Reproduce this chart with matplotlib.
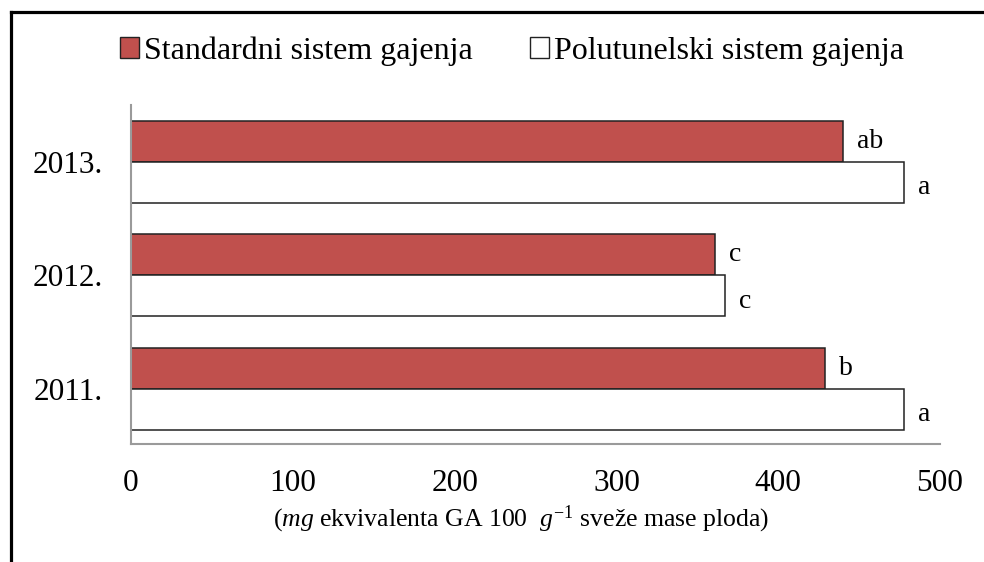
import matplotlib
matplotlib.use("Agg")
import matplotlib.pyplot as plt
from matplotlib.patches import Patch
from matplotlib.lines import Line2D

plt.rcParams['font.family'] = ['Liberation Serif', 'DejaVu Serif']
plt.rcParams['mathtext.fontset'] = 'custom'
plt.rcParams['mathtext.rm'] = 'Liberation Serif'
plt.rcParams['mathtext.it'] = 'Liberation Serif:italic'

years = ["2011.", "2012.", "2013."]
standardni = [429, 361, 440]
polutunelski = [478, 367, 478]
letters_std = ["b", "c", "ab"]
letters_pol = ["a", "c", "a"]
series_names = ["Standardni sistem gajenja", "Polutunelski sistem gajenja"]
xticks = [0, 100, 200, 300, 400, 500]
xlabel = r"$(\mathit{mg}$ ekvivalenta GA 100  $\mathit{g}^{-1}$ sveže mase ploda)"

W, H = 984, 562
fig = plt.figure(figsize=(W / 100, H / 100), dpi=100)
ax = fig.add_axes([131 / W, 1 - 444 / H, (940 - 131) / W, (444 - 105) / H])

red = "#C0504D"
h = 0.36
pos = list(range(len(years)))
b1 = ax.barh([p + h / 2 for p in pos], standardni, height=h, color=red,
             edgecolor="#222222", linewidth=1.1)
b2 = ax.barh([p - h / 2 for p in pos], polutunelski, height=h, color="white",
             edgecolor="#222222", linewidth=1.1)

for bars, labs, dy in ((b1, letters_std, 0), (b2, letters_pol, -4)):
    for bar, lab in zip(bars, labs):
        ax.annotate(lab, (bar.get_width(), bar.get_y() + bar.get_height() / 2),
                    xytext=(10, dy), textcoords="offset points", ha="left",
                    va="center", fontsize=20)

ax.set_xlim(0, 500)
ax.set_ylim(-0.485, 2.5)
ax.set_yticks(pos)
ax.set_yticklabels(years, fontsize=22.5)
ax.set_xticks(xticks)
ax.set_xticklabels([str(t) for t in xticks], fontsize=22.5)
ax.tick_params(axis="y", length=0, pad=20)
ax.tick_params(axis="x", length=0, pad=18)
for s in ["top", "right"]:
    ax.spines[s].set_visible(False)
for s in ["left", "bottom"]:
    ax.spines[s].set_color("#9a9a9a")
    ax.spines[s].set_linewidth(1.5)

fig.text(521 / W, 1 - 519 / H, xlabel, fontsize=18.5, ha="center", va="center")

handles = [Patch(facecolor=red, edgecolor="#222222", linewidth=1.0),
           Patch(facecolor="white", edgecolor="#222222", linewidth=1.0)]
fig.legend(handles, series_names, loc="center", bbox_to_anchor=(512 / W, 1 - 51 / H),
           ncol=2, frameon=False, fontsize=23, handlelength=0.6, handleheight=0.6,
           handletextpad=0.15, columnspacing=1.8, borderpad=0, borderaxespad=0)

# outer frame (left and top edges visible)
fig.add_artist(Line2D([11 / W, 11 / W], [0, 1 - 12 / H], transform=fig.transFigure,
                      color="black", linewidth=2.3))
fig.add_artist(Line2D([11 / W, 1], [1 - 12 / H, 1 - 12 / H], transform=fig.transFigure,
                      color="black", linewidth=2.3))

fig.savefig("out.png", dpi=100, facecolor="white")
